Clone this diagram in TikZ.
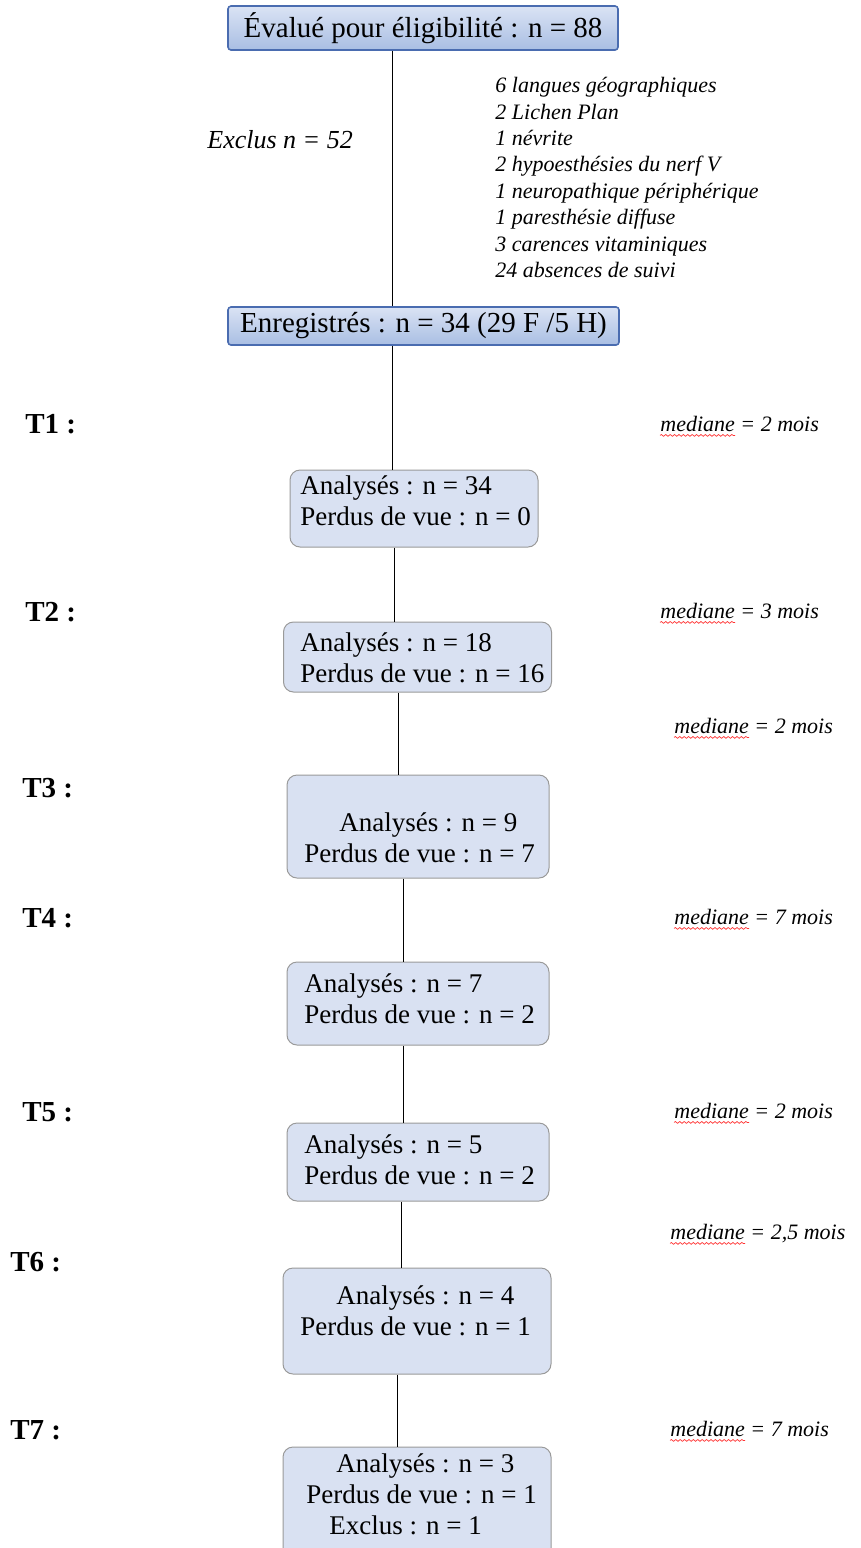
\documentclass[tikz,border=0pt]{standalone}
\usepackage{fontspec}
\setmainfont{Liberation Serif}
\usetikzlibrary{decorations.pathmorphing}
\definecolor{HeadTop}{HTML}{DAE3F4}
\definecolor{HeadBot}{HTML}{A9BEE3}
\definecolor{HeadLine}{HTML}{4A6CB0}
\definecolor{StepFill}{HTML}{D9E1F2}
\definecolor{StepLine}{HTML}{9A9A9A}
\tikzset{
  headbox/.style={draw=HeadLine, line width=0.8pt, rounded corners=1.5pt,
    top color=HeadTop, bottom color=HeadBot, inner sep=0pt,
    font=\fontsize{14.5}{17}\selectfont},
  stepbox/.style={draw=StepLine, line width=0.5pt, rounded corners=5pt,
    fill=StepFill, inner sep=0pt},
  steptext/.style={anchor=west, align=left, inner sep=0pt,
    font=\fontsize{13.5}{15.5}\selectfont},
  link/.style={line width=0.5pt, black},
  tlabel/.style={anchor=west, inner sep=0pt, font=\fontsize{14.5}{17}\selectfont\bfseries},
  medlabel/.style={anchor=base west, inner sep=0pt, font=\fontsize{11}{13}\selectfont\itshape},
  squig/.style={red!80, line width=0.35pt,
    decorate, decoration={snake, segment length=2.2pt, amplitude=0.45pt}}
}
\begin{document}
\begin{tikzpicture}[x=0.5pt, y=-0.5pt]
  \useasboundingbox (0,0) rectangle (861,1548);

% head boxes
  \node[headbox, minimum width=195pt, minimum height=22pt] (eval) at (423,28)
    {Évalué pour éligibilité : n = 88};
  \node[headbox, minimum width=195.5pt, minimum height=19pt] (enreg) at (423.5,326)
    {Enregistrés : n = 34 (29 F /5 H)};

  \node[anchor=west, inner sep=0pt, font=\fontsize{13}{15}\selectfont\itshape] (excl) at (207,140)
    {Exclus n = 52};
  \node[anchor=north west, align=left, inner sep=0pt,
        font=\fontsize{11}{13.2}\selectfont\itshape] (motifs) at (495,77)
    {6 langues géographiques\\
     2 Lichen Plan\\
     1 névrite\\
     2 hypoesthésies du nerf V\\
     1 neuropathique périphérique\\
     1 paresthésie diffuse\\
     3 carences vitaminiques\\
     24 absences de suivi};

% follow-up boxes
  \node[stepbox, minimum width=124pt, minimum height=38.5pt] (b1) at (414,508.5) {};
  \node[stepbox, minimum width=134pt, minimum height=35pt] (b2) at (417.5,657) {};
  \node[stepbox, minimum width=131pt, minimum height=51.5pt] (b3) at (418,826.5) {};
  \node[stepbox, minimum width=131pt, minimum height=41.5pt] (b4) at (418,1003.5) {};
  \node[stepbox, minimum width=131pt, minimum height=39pt] (b5) at (418,1162) {};
  \node[stepbox, minimum width=134pt, minimum height=53pt] (b6) at (417,1321) {};
  \node[stepbox, minimum width=134pt, minimum height=60pt] (b7) at (417,1507) {};

  \node[steptext] (b1t) at (300,501) {Analysés : n = 34\\Perdus de vue : n = 0};
  \node[steptext] (b2t) at (300,658) {Analysés : n = 18\\Perdus de vue : n = 16};
  \node[steptext] (b3t) at (304,837.5) {\hspace*{17.5pt}Analysés : n = 9\\Perdus de vue : n = 7};
  \node[steptext] (b4t) at (304,998.5) {Analysés : n = 7\\Perdus de vue : n = 2};
  \node[steptext] (b5t) at (304,1160) {Analysés : n = 5\\Perdus de vue : n = 2};
  \node[steptext] (b6t) at (300,1311) {\hspace*{18pt}Analysés : n = 4\\Perdus de vue : n = 1};
  \node[steptext] (b7t) at (306,1494) {\hspace*{15pt}Analysés : n = 3\\Perdus de vue : n = 1\\\hspace*{11.5pt}Exclus : n = 1};

% links
  \draw[link] (eval.south -| 392,0) -- (enreg.north -| 392,0);
  \draw[link] (enreg.south -| 392,0) -- (b1.north -| 392,0);
  \draw[link] (b1.south -| 394,0) -- (b2.north -| 394,0);
  \draw[link] (b2.south -| 398,0) -- (b3.north -| 398,0);
  \draw[link] (b3.south -| 403,0) -- (b4.north -| 403,0);
  \draw[link] (b4.south -| 403,0) -- (b5.north -| 403,0);
  \draw[link] (b5.south -| 401,0) -- (b6.north -| 401,0);
  \draw[link] (b6.south -| 397,0) -- (b7.north -| 397,0);

% time points
  \foreach \x/\y/\t in {25/424/1, 25/612/2, 22/788/3, 22/918/4, 22/1112/5, 10/1262/6, 10/1430/7}
    \node[tlabel] (t\t) at (\x,\y) {T\t\ :};

  \foreach \x/\y/\m [count=\i] in {660/431/2, 660/618/3, 674/733/2, 674/924/7,
                                   674/1118/2, 670/1239/{2,5}, 670/1436/7} {
    \node[medlabel] (med\i) at (\x,\y) {mediane = \m\ mois};
    \draw[squig] ([yshift=-2.2pt]med\i.base west) -- ++(75,0);
  }

\end{tikzpicture}
\end{document}
